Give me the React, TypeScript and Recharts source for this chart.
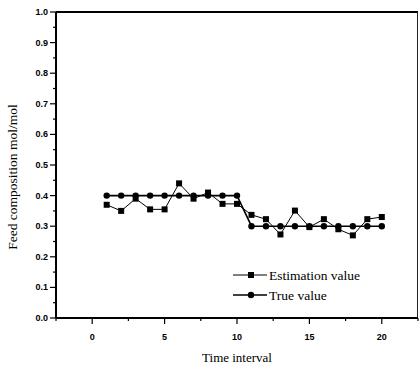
import { LineChart, Line, XAxis, YAxis } from 'recharts';

const timeSteps = [1, 2, 3, 4, 5, 6, 7, 8, 9, 10, 11, 12, 13, 14, 15, 16, 17, 18, 19, 20];
const estimationValues = [0.37, 0.35, 0.39, 0.355, 0.355, 0.44, 0.39, 0.41, 0.373, 0.373, 0.337, 0.323, 0.273, 0.351, 0.297, 0.323, 0.29, 0.27, 0.323, 0.33];
const trueValues = [0.4, 0.4, 0.4, 0.4, 0.4, 0.4, 0.4, 0.4, 0.4, 0.4, 0.3, 0.3, 0.3, 0.3, 0.3, 0.3, 0.3, 0.3, 0.3, 0.3];
const xTicks = [-2.5, 0, 2.5, 5, 7.5, 10, 12.5, 15, 17.5, 20, 22.5];
const xMajor = [0, 5, 10, 15, 20];
const yTicks = [0, 0.05, 0.1, 0.15, 0.2, 0.25, 0.3, 0.35, 0.4, 0.45, 0.5, 0.55, 0.6, 0.65, 0.7, 0.75, 0.8, 0.85, 0.9, 0.95, 1.0];

const data = timeSteps.map((t, i) => ({ t, est: estimationValues[i], tru: trueValues[i] }));

const serif = '"Liberation Serif", "DejaVu Serif", serif';
const sans = '"Liberation Sans", Arial, sans-serif';

const isMajorY = (v: number) => Math.abs(v * 10 - Math.round(v * 10)) < 1e-6;

const YTick = (props: any) => {
  const { x, y, payload } = props;
  const major = isMajorY(payload.value);
  return (
    <g>
      <line x1={x} x2={x - (major ? 6 : 3)} y1={y} y2={y} stroke="#000" strokeWidth={1.2} />
      {major && (
        <text x={x - 8} y={y + 3} textAnchor="end" fontFamily={sans} fontWeight="bold" fontSize={9} fill="#000">
          {payload.value.toFixed(1)}
        </text>
      )}
    </g>
  );
};

const XTick = (props: any) => {
  const { x, y, payload } = props;
  const major = xMajor.includes(payload.value);
  return (
    <g>
      <line x1={x} x2={x} y1={y} y2={y + (major ? 6 : 3)} stroke="#000" strokeWidth={1.2} />
      {major && (
        <text x={x} y={y + 22} textAnchor="middle" fontFamily={sans} fontWeight="bold" fontSize={9} fill="#000">
          {payload.value}
        </text>
      )}
    </g>
  );
};

const SquareDot = (props: any) => {
  const { cx, cy, index } = props;
  return <rect key={`sq-${index}`} x={cx - 3} y={cy - 3} width={6} height={6} fill="#000" />;
};

const CircleDot = (props: any) => {
  const { cx, cy, index } = props;
  return <circle key={`ci-${index}`} cx={cx} cy={cy} r={3.2} fill="#000" />;
};

const LegendBox = () => (
  <svg width={160} height={40} style={{ display: 'block' }}>
    <line x1={1} x2={35} y1={8} y2={8} stroke="#000" strokeWidth={1} />
    <rect x={16} y={5} width={6} height={6} fill="#000" />
    <text x={37} y={12.5} fontFamily={serif} fontSize={13.5} fill="#000">Estimation value</text>
    <line x1={1} x2={35} y1={28} y2={28} stroke="#000" strokeWidth={1.6} />
    <circle cx={19} cy={28} r={3.2} fill="#000" />
    <text x={37} y={32.5} fontFamily={serif} fontSize={13.5} fill="#000">True value</text>
  </svg>
);

export default function App() {
  return (
    <div style={{ position: 'absolute', left: 0, top: 0, width: 419, height: 366, background: '#fff' }}>
      <style>{`body{margin:0;background:#fff}`}</style>
      {/* frame: top and right edges of the plot box */}
      <div
        style={{
          position: 'absolute',
          left: 56,
          top: 11,
          width: 361,
          height: 306,
          borderTop: '2px solid #000',
          borderRight: '1px solid #222',
          pointerEvents: 'none',
        }}
      />
      <LineChart width={419} height={366} data={data} margin={{ top: 12, right: 1, left: 0, bottom: 0 }}>
        <XAxis
          dataKey="t"
          type="number"
          domain={[-2.5, 22.5]}
          ticks={xTicks}
          interval={0}
          height={48}
          tickSize={0}
          tickMargin={0}
          tickLine={false}
          tick={<XTick />}
          axisLine={{ stroke: '#000', strokeWidth: 2 }}
          label={{ value: 'Time interval', position: 'insideBottom', offset: 4, style: { fontFamily: serif, fontSize: 13, fill: '#000' } }}
        />
        <YAxis
          type="number"
          domain={[0, 1]}
          ticks={yTicks}
          interval={0}
          width={56}
          tickSize={0}
          tickMargin={0}
          tickLine={false}
          tick={<YTick />}
          axisLine={{ stroke: '#000', strokeWidth: 2 }}
          label={{ value: 'Feed composition mol/mol', angle: -90, position: 'insideLeft', offset: 12, dy: 12, style: { textAnchor: 'middle', fontFamily: serif, fontSize: 13.5, fill: '#000' } }}
        />
        <Line
          dataKey="est"
          name="Estimation value"
          stroke="#000"
          strokeWidth={1}
          dot={<SquareDot />}
          activeDot={false}
          isAnimationActive={false}
        />
        <Line
          dataKey="tru"
          name="True value"
          stroke="#000"
          strokeWidth={1.6}
          dot={<CircleDot />}
          activeDot={false}
          isAnimationActive={false}
        />
      </LineChart>
      <div style={{ position: 'absolute', left: 232, top: 267 }}>
        <LegendBox />
      </div>
    </div>
  );
}
